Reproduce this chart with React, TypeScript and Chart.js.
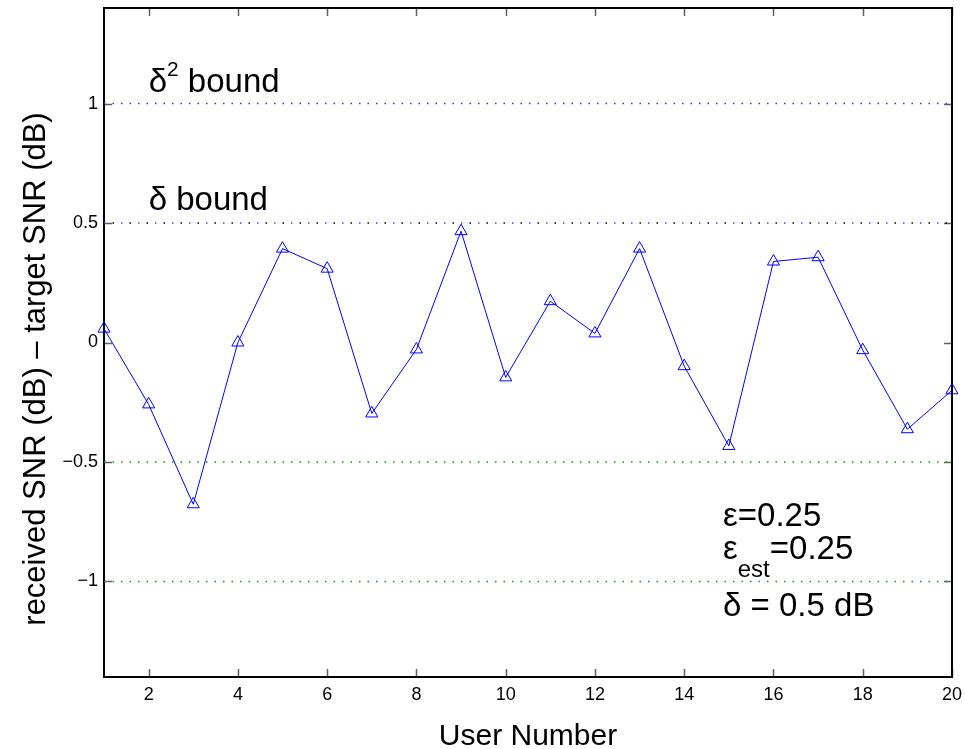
import React, { useEffect, useRef } from "react";
import { Chart, registerables } from "chart.js";

Chart.register(...registerables);

// ---- data ----
const users = [1, 2, 3, 4, 5, 6, 7, 8, 9, 10, 11, 12, 13, 14, 15, 16, 17, 18, 19, 20];
const snrError = [
  0.058, -0.259, -0.677, 0.0, 0.393, 0.309, -0.297, -0.029, 0.466, -0.146,
  0.173, 0.038, 0.393, -0.099, -0.433, 0.339, 0.357, -0.032, -0.363, -0.2,
];
const xTicks = [2, 4, 6, 8, 10, 12, 14, 16, 18, 20];
const yTicks = [-1, -0.5, 0, 0.5, 1];
const xRange = [1, 20];
const yRange = [-1.4, 1.4];
const delta2Bound = 1;
const deltaBound = 0.5;
const lowerDeltaBound = -0.5;
const lowerDelta2Bound = -1;

const FONT = "'Liberation Sans', Arial, Helvetica, sans-serif";

type Part = { t: string; s: number; dy?: number };

const annotations: { x: number; y: number; parts: Part[] }[] = [
  { x: 2.0, y: 1.05, parts: [{ t: "δ", s: 33 }, { t: "2", s: 21, dy: -16 }, { t: " bound", s: 33 }] },
  { x: 2.0, y: 0.555, parts: [{ t: "δ bound", s: 33 }] },
  { x: 14.87, y: -0.77, parts: [{ t: "ε=0.25", s: 33 }] },
  { x: 14.87, y: -0.908, parts: [{ t: "ε", s: 33 }, { t: "est", s: 24, dy: 18 }, { t: "=0.25", s: 33 }] },
  { x: 14.87, y: -1.146, parts: [{ t: "δ = 0.5 dB", s: 33 }] },
];

const hline = (v: number) => [
  { x: xRange[0], y: v },
  { x: xRange[1], y: v },
];

const decor = {
  id: "decor",
  beforeDatasetsDraw(chart: any) {
    const { ctx, chartArea: a, scales } = chart;
    const x = scales.x;
    const y = scales.y;
    ctx.save();
    ctx.strokeStyle = "#606060";
    ctx.lineWidth = 1.5;
    const tl = 8;
    xTicks.forEach((v) => {
      const px = Math.round(x.getPixelForValue(v)) + 0.5;
      ctx.beginPath();
      ctx.moveTo(px, a.bottom);
      ctx.lineTo(px, a.bottom - tl);
      ctx.moveTo(px, a.top);
      ctx.lineTo(px, a.top + tl);
      ctx.stroke();
    });
    yTicks.forEach((v) => {
      const py = Math.round(y.getPixelForValue(v)) + 0.5;
      ctx.beginPath();
      ctx.moveTo(a.left, py);
      ctx.lineTo(a.left + tl, py);
      ctx.moveTo(a.right, py);
      ctx.lineTo(a.right - tl, py);
      ctx.stroke();
    });
    ctx.strokeStyle = "#000";
    ctx.lineWidth = 2;
    ctx.strokeRect(a.left, a.top, a.right - a.left, a.bottom - a.top);
    ctx.restore();
  },
  afterDraw(chart: any) {
    const { ctx, chartArea: a, scales } = chart;
    const x = scales.x;
    const y = scales.y;
    ctx.save();
    ctx.fillStyle = "#000";
    ctx.textBaseline = "alphabetic";
    // axis titles
    ctx.font = `30px ${FONT}`;
    ctx.textAlign = "center";
    ctx.fillText("User Number", (a.left + a.right) / 2, 745);
    ctx.save();
    ctx.translate(45, 369);
    ctx.rotate(-Math.PI / 2);
    ctx.font = `31px ${FONT}`;
    ctx.fillText("received SNR (dB) – target SNR (dB)", 0, 0);
    ctx.restore();
    // annotations
    ctx.textAlign = "left";
    annotations.forEach((an) => {
      let px = x.getPixelForValue(an.x);
      const py = y.getPixelForValue(an.y);
      an.parts.forEach((p) => {
        ctx.font = `${p.s}px ${FONT}`;
        ctx.fillText(p.t, px, py + (p.dy || 0));
        px += ctx.measureText(p.t).width;
      });
    });
    ctx.restore();
  },
};

export default function App() {
  const ref = useRef<HTMLCanvasElement | null>(null);
  useEffect(() => {
    if (!ref.current) return;
    const dotted = [1.5, 7];
    const chart = new Chart(ref.current, {
      type: "line",
      data: {
        datasets: [
          {
            data: hline(delta2Bound),
            borderColor: "#3030ff",
            borderWidth: 1.5,
            borderDash: dotted,
            pointRadius: 0,
          },
          {
            data: hline(deltaBound),
            borderColor: "#4040ff",
            borderWidth: 1.5,
            borderDash: [1.5, 15.5],
            pointRadius: 0,
          },
          {
            data: hline(deltaBound),
            borderColor: "#000",
            borderWidth: 1.5,
            borderDash: [1.5, 15.5],
            borderDashOffset: 8.5,
            pointRadius: 0,
          },
          {
            data: hline(lowerDeltaBound),
            borderColor: "#00a000",
            borderWidth: 1.5,
            borderDash: dotted,
            pointRadius: 0,
          },
          {
            data: hline(lowerDelta2Bound),
            borderColor: "#00a000",
            borderWidth: 1.5,
            borderDash: dotted,
            pointRadius: 0,
          },
          {
            data: users.map((u, i) => ({ x: u, y: snrError[i] })),
            borderColor: "#0000ff",
            borderWidth: 1,
            pointStyle: "triangle",
            pointRadius: 7,
            pointBorderWidth: 1,
            pointBorderColor: "#0000ff",
            pointBackgroundColor: "rgba(0,0,0,0)",
            tension: 0,
            clip: false as any,
          },
        ],
      },
      options: {
        animation: false,
        responsive: false,
        devicePixelRatio: 1,
        layout: { padding: { top: 8, right: 13, left: 0, bottom: 0 } },
        plugins: { legend: { display: false }, tooltip: { enabled: false } },
        events: [],
        scales: {
          x: {
            type: "linear",
            min: xRange[0],
            max: xRange[1],
            grid: { display: false, drawTicks: false },
            border: { display: false },
            afterBuildTicks: (s: any) => {
              s.ticks = xTicks.map((v) => ({ value: v }));
            },
            afterFit: (s: any) => {
              s.height = 72;
              s.paddingLeft = 0;
              s.paddingRight = 0;
            },
            ticks: {
              autoSkip: false,
              maxRotation: 0,
              padding: 7,
              color: "#000",
              font: { family: FONT, size: 18 },
              callback: (v: any) => String(v),
            },
          },
          y: {
            type: "linear",
            min: yRange[0],
            max: yRange[1],
            grid: { display: false, drawTicks: false },
            border: { display: false },
            afterBuildTicks: (s: any) => {
              s.ticks = yTicks.map((v) => ({ value: v }));
            },
            afterFit: (s: any) => {
              s.width = 104;
              s.paddingTop = 0;
              s.paddingBottom = 0;
            },
            ticks: {
              padding: 6,
              color: "#000",
              font: { family: FONT, size: 18 },
              callback: (v: any) => (Number(v) < 0 ? "\u2212" + String(Math.abs(Number(v))) : String(v)),
            },
          },
        },
      },
      plugins: [decor],
    });
    return () => chart.destroy();
  }, []);
  return (
    <div style={{ position: "fixed", left: 0, top: 0, width: 965, height: 749, background: "#fff" }}>
      <canvas ref={ref} width={965} height={749} style={{ display: "block" }} />
    </div>
  );
}
